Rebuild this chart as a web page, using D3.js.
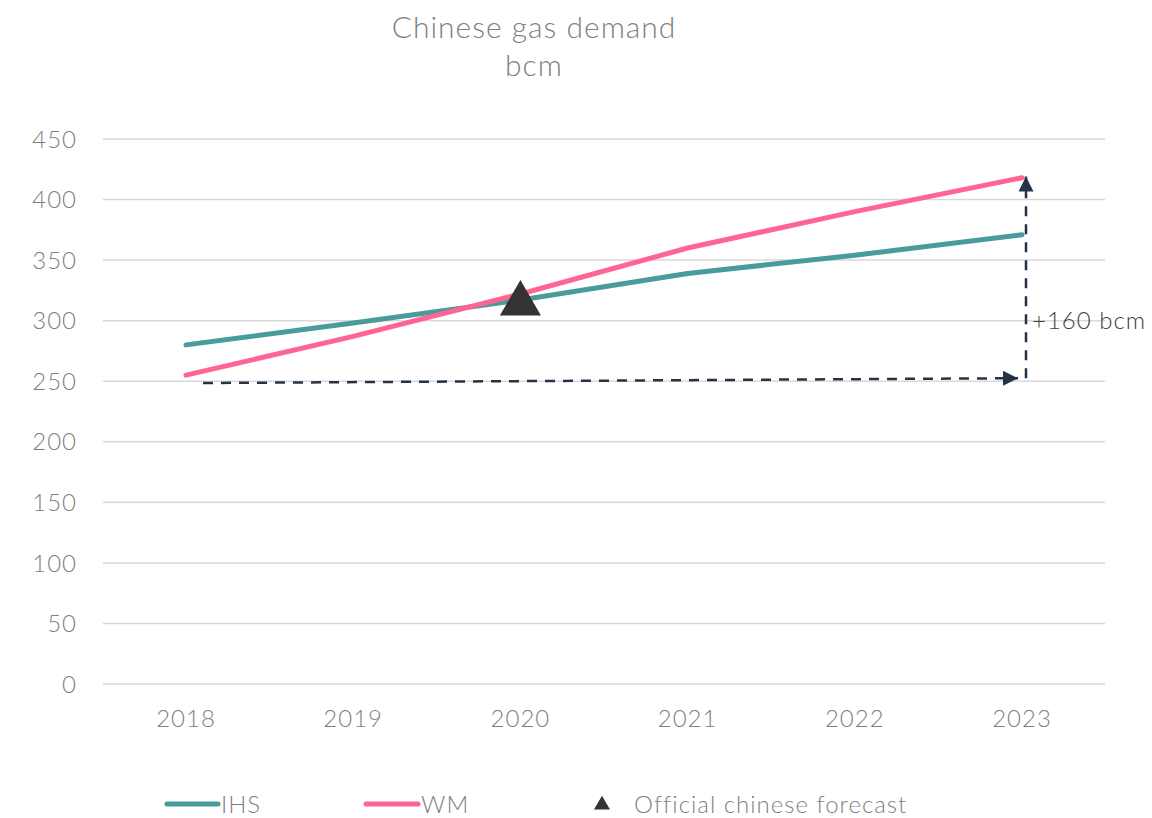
<!DOCTYPE html>
<html><head><meta charset="utf-8">
<script src="https://cdn.jsdelivr.net/npm/d3@7"></script>
<style>
body{margin:0;background:#fff;}
text{font-family:Lato,"Open Sans",sans-serif;font-weight:300;letter-spacing:1px;}
</style></head>
<body>
<svg id="chart" width="1152" height="818"></svg>
<script>
const years = ["2018","2019","2020","2021","2022","2023"];
const ihs = [280, 298, 317, 339, 354, 371];
const wm = [255, 287, 322, 360, 390, 418];
const official = [{year:"2020", value:314}];
const yTicks = [0,50,100,150,200,250,300,350,400,450];
const arrowH = [{year:"2018", value:248.5, dx:17}, {year:"2023", value:252.5, dx:-4}];
const arrowV = [{year:"2023", value:252.5}, {year:"2023", value:419}];
const arrowLabel = "+160 bcm";
const title = ["Chinese gas demand","bcm"];
const legendItems = ["IHS","WM","Official chinese forecast"];

const svg = d3.select("#chart");
const x = d3.scalePoint().domain(years).range([186,1022]);
const y = d3.scaleLinear().domain([0,450]).range([684,139]);
const gridX = [103,1105];

// gridlines
svg.append("g").selectAll("line").data(yTicks).join("line")
  .attr("x1",gridX[0]).attr("x2",gridX[1])
  .attr("y1",d=>y(d)).attr("y2",d=>y(d))
  .attr("stroke","#d9d9d9").attr("stroke-width",1.5);

// y labels
svg.append("g").selectAll("text").data(yTicks).join("text")
  .attr("x",77).attr("y",d=>y(d)).attr("dy","0.36em")
  .attr("text-anchor","end").attr("font-size",24).attr("fill","#7f7f7f")
  .text(d=>d);
// x labels
svg.append("g").selectAll("text").data(years).join("text")
  .attr("x",d=>x(d)).attr("y",718).attr("dy","0.36em")
  .attr("text-anchor","middle").attr("font-size",24).attr("fill","#7f7f7f")
  .text(d=>d);

// title
svg.append("g").selectAll("text").data(title).join("text")
  .attr("x",534).attr("y",(d,i)=>27+i*38).attr("dy","0.36em")
  .attr("text-anchor","middle").attr("font-size",30).attr("fill","#808080")
  .attr("letter-spacing","1.2px")
  .text(d=>d);

const line = d3.line().x((d,i)=>x(years[i])).y(d=>y(d));
svg.append("path").datum(ihs).attr("d",line).attr("fill","none")
  .attr("stroke","#4a9b9c").attr("stroke-width",5).attr("stroke-linecap","round").attr("stroke-linejoin","round");
svg.append("path").datum(wm).attr("d",line).attr("fill","none")
  .attr("stroke","#ff6592").attr("stroke-width",5).attr("stroke-linecap","round").attr("stroke-linejoin","round");

// dashed arrows
const navy = "#243447";
svg.append("defs").append("marker").attr("id","arr").attr("viewBox","0 0 10 10")
  .attr("refX",10).attr("refY",5).attr("markerWidth",6).attr("markerHeight",6)
  .attr("markerUnits","strokeWidth").attr("orient","auto")
  .append("path").attr("d","M0,0 L10,5 L0,10 Z").attr("fill",navy);
svg.append("line")
  .attr("x1",x(arrowH[0].year)+arrowH[0].dx).attr("y1",y(arrowH[0].value))
  .attr("x2",x(arrowH[1].year)+arrowH[1].dx).attr("y2",y(arrowH[1].value))
  .attr("stroke",navy).attr("stroke-width",2.5).attr("stroke-dasharray","10,8")
  .attr("marker-end","url(#arr)");
svg.append("line")
  .attr("x1",x(arrowV[0].year)+4).attr("y1",y(arrowV[0].value))
  .attr("x2",x(arrowV[1].year)+4).attr("y2",y(arrowV[1].value))
  .attr("stroke",navy).attr("stroke-width",2.5).attr("stroke-dasharray","10,8")
  .attr("marker-end","url(#arr)");
svg.append("text").attr("x",x("2023")+10).attr("y",y(300)).attr("dy","0.36em")
  .attr("font-size",24).attr("fill","#404040").text(arrowLabel);

// official triangle
const tri = d3.symbol().type(d3.symbolTriangle).size(730);
svg.append("g").selectAll("path").data(official).join("path")
  .attr("d",tri).attr("transform",d=>`translate(${x(d.year)},${y(d.value)})`)
  .attr("fill","#333333");

// legend
const lg = svg.append("g");
const legY = 804;
lg.append("line").attr("x1",167).attr("x2",218).attr("y1",legY).attr("y2",legY)
  .attr("stroke","#4a9b9c").attr("stroke-width",5).attr("stroke-linecap","round");
lg.append("text").attr("x",221).attr("y",legY).attr("dy","0.36em").attr("font-size",24).attr("fill","#7f7f7f").text(legendItems[0]);
lg.append("line").attr("x1",366).attr("x2",418).attr("y1",legY).attr("y2",legY)
  .attr("stroke","#ff6592").attr("stroke-width",5).attr("stroke-linecap","round");
lg.append("text").attr("x",421).attr("y",legY).attr("dy","0.36em").attr("font-size",24).attr("fill","#7f7f7f").text(legendItems[1]);
lg.append("path").attr("d",d3.symbol().type(d3.symbolTriangle).size(110))
  .attr("transform",`translate(602,${legY+1})`).attr("fill","#333333");
lg.append("text").attr("x",634).attr("y",legY).attr("dy","0.36em").attr("font-size",24).attr("fill","#7f7f7f").text(legendItems[2]);
</script>
</body></html>
